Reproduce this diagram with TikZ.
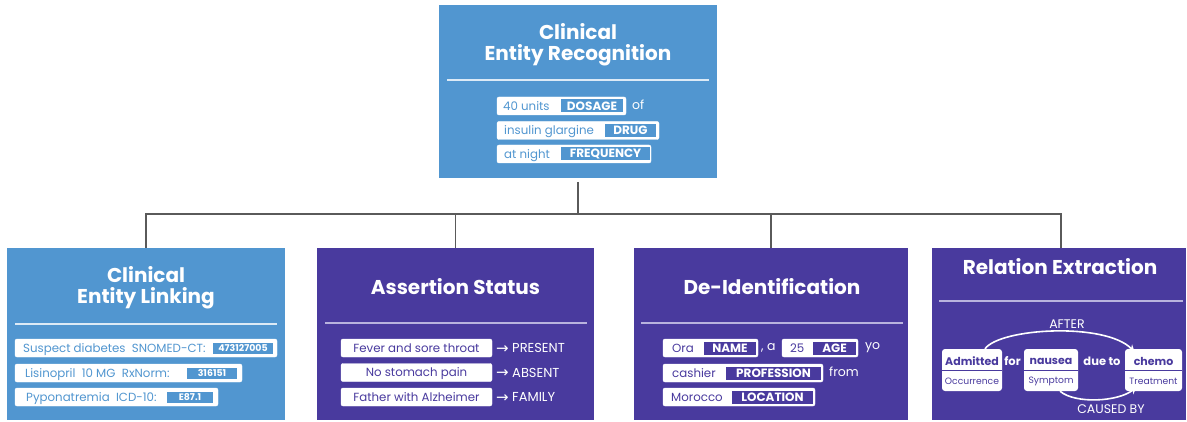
\documentclass[tikz,border=0pt]{standalone}
\usepackage{fontspec}
\setmainfont{Poppins}
\newfontfamily\djv{DejaVu Sans}
\usetikzlibrary{arrows.meta}
\definecolor{cblue}{HTML}{5196D0}
\definecolor{cpurp}{HTML}{493A9E}
\definecolor{cline}{HTML}{5A5A5A}
\definecolor{sepb}{HTML}{DCEAF6}
\definecolor{sepp}{HTML}{B9B3DE}
\tikzset{
  panel/.style={inner sep=0, outer sep=0, anchor=north west},
  ttl/.style={text=white, align=center, font=\bfseries\fontsize{20}{21}\selectfont},
  rowbox/.style={fill=white, draw=white, rounded corners=2pt, inner sep=0, minimum height=18pt},
  rtext/.style={anchor=west, inner sep=0, text height=8.8pt, text depth=0pt, font=\fontsize{11.8}{13}\selectfont},
  tagb/.style={fill=#1, text=white, inner sep=0, minimum height=13pt, font=\bfseries\fontsize{12}{13}\selectfont},
  tags/.style={fill=#1, text=white, inner sep=0, minimum height=11pt, font=\bfseries\fontsize{9.4}{10}\selectfont},
  wtext/.style={text=white, inner sep=0, font=\fontsize{12.5}{14}\selectfont},
  arrtext/.style={text=white, inner sep=0, anchor=west, text height=9pt, text depth=0pt, font=\fontsize{13}{14}\selectfont},
  conn/.style={draw=cline, line width=1.1pt},
  ebox/.style={fill=white, rounded corners=3pt, inner sep=0, minimum height=42pt},
  ename/.style={text=cpurp, inner sep=0, font=\bfseries\fontsize{11}{12}\selectfont},
  elab/.style={text=cpurp, inner sep=0, font=\fontsize{9.2}{10}\selectfont},
  rel/.style={draw=white, line width=1.6pt, -{Stealth[length=7pt,width=7pt]}},
  asrow/.style={rowbox, minimum width=151pt, text=cpurp, text height=8.8pt, text depth=0pt, font=\fontsize{11.8}{13}\selectfont},
}
\newcommand{\rarw}{{\djv\fontsize{15}{14}\selectfont\raisebox{-0.5pt}{→}}}
\begin{document}
\begin{tikzpicture}[x=1pt,y=-1pt]
\useasboundingbox (0,0) rectangle (1187,422);
% panels
\node[panel, fill=cblue, minimum width=278pt, minimum height=173pt] (top) at (439,5) {};
\node[panel, fill=cblue, minimum width=278pt, minimum height=172pt] (b1) at (7,248) {};
\node[panel, fill=cpurp, minimum width=277pt, minimum height=172pt] (b2) at (317,248) {};
\node[panel, fill=cpurp, minimum width=274pt, minimum height=172pt] (b3) at (634,248) {};
\node[panel, fill=cpurp, minimum width=254pt, minimum height=172pt] (b4) at (932,248) {};
% connectors
\coordinate (bus) at (578,214);
\draw[conn, shorten <=4pt] (top.south) -- (bus);
\draw[conn] (b1.north) -- (b1.north |- bus) -- ([xshift=2pt]b4.north |- bus) -- ([xshift=2pt]b4.north);
\draw[conn] (b2.north) -- (b2.north |- bus);
\draw[conn] (b3.north) -- (b3.north |- bus);
% titles
\node[ttl] (t0) at (578,45) {Clinical\\Entity Recognition};
\node[ttl] (t1) at (146,288) {Clinical\\Entity Linking};
\node[ttl] (t2) at (455.5,287) {Assertion Status};
\node[ttl] (t3) at (772,287) {De-Identification};
\node[ttl] (t4) at (1060,267) {Relation Extraction};
% separators
\draw[sepb, line width=1.1pt] (447,80) -- (709,80);
\draw[sepb, line width=1.1pt] (15,324) -- (277,324);
\draw[sepp, line width=1.1pt] (325,323) -- (587,323);
\draw[sepp, line width=1.1pt] (641,323) -- (903,323);
\draw[sepp, line width=1.1pt] (939,301) -- (1183,301);
% top rows
\node[rowbox, minimum width=129pt] (r01) at (561.5,106) {};
\node[rtext, text=cblue] (r01t) at (503,106) {40 units};
\node[tagb=cblue, minimum width=62pt] (r01g) at (592,106) {DOSAGE};
\node[wtext, anchor=west] (r01o) at (632,105) {of};
\node[rowbox, minimum width=162pt] (r02) at (578,130.5) {};
\node[rtext, text=cblue] (r02t) at (504,130.5) {insulin glargine};
\node[tagb=cblue, minimum width=51pt] (r02g) at (630.5,130.5) {DRUG};
\node[rowbox, minimum width=154pt] (r03) at (574,154) {};
\node[rtext, text=cblue] (r03t) at (504,154) {at night};
\node[tagb=cblue, minimum width=89pt] (r03g) at (605.5,154) {FREQUENCY};
% box1 rows
\node[rowbox, minimum width=262pt] (r11) at (146,348) {};
\node[rtext, text=cblue] (r11t) at (23,348) {Suspect diabetes\ \ SNOMED-CT:};
\node[tags=cblue, minimum width=60pt] (r11g) at (243,348.5) {473127005};
\node[rowbox, minimum width=227pt] (r12) at (128.5,373) {};
\node[rtext, text=cblue] (r12t) at (25,373) {Lisinopril\ \ 10 MG\ \ RxNorm:};
\node[tags=cblue, minimum width=50pt] (r12g) at (212,373) {316151};
\node[rowbox, minimum width=203pt] (r13) at (116.5,397) {};
\node[rtext, text=cblue] (r13t) at (26,397) {Pyponatremia\ \ ICD-10:};
\node[tags=cblue, minimum width=46pt] (r13g) at (190,397) {E87.1};
% box2 rows
\node[asrow] (r21) at (416.5,348) {Fever and sore throat};
\node[asrow] (r22) at (416.5,372.5) {No stomach pain};
\node[asrow] (r23) at (416.5,397) {Father with Alzheimer};
\node[arrtext] (r21a) at (496,348) {\rarw\ PRESENT};
\node[arrtext] (r22a) at (496,372.5) {\rarw\ ABSENT};
\node[arrtext] (r23a) at (496,397) {\rarw\ FAMILY};
% box3 rows
\node[rowbox, minimum width=95pt] (r31) at (710.5,348) {};
\node[rtext, text=cpurp] (r31t) at (672,348) {Ora};
\node[tagb=cpurp, minimum width=52pt] (r31g) at (730,348) {NAME};
\node[wtext, anchor=west] (r31c) at (761,348) {, a};
\node[rowbox, minimum width=76pt] (r32) at (820,348) {};
\node[rtext, text=cpurp] (r32t) at (790,348) {25};
\node[tagb=cpurp, minimum width=43pt] (r32g) at (834.5,348) {AGE};
\node[wtext, anchor=west] (r32y) at (865,348) {yo};
\node[rowbox, minimum width=160pt] (r33) at (743,373) {};
\node[rtext, text=cpurp] (r33t) at (672,373) {cashier};
\node[tagb=cpurp, minimum width=95pt] (r33g) at (773.5,373) {PROFESSION};
\node[wtext, anchor=west] (r33f) at (829,372) {from};
\node[rowbox, minimum width=152pt] (r34) at (739,397) {};
\node[rtext, text=cpurp] (r34t) at (671,397) {Morocco};
\node[tagb=cpurp, minimum width=81pt] (r34g) at (772.5,397) {LOCATION};
% box4 relation
\node[ebox, minimum width=60pt] (adm) at (972,370) {};
\node[ebox, minimum width=54pt] (nau) at (1051,370) {};
\node[ebox, minimum width=57pt] (che) at (1153.5,370) {};
\draw[cpurp, line width=0.8pt] (adm.west) -- (adm.east);
\draw[cpurp, line width=0.8pt] (nau.west) -- (nau.east);
\draw[cpurp, line width=0.8pt] (che.west) -- (che.east);
\node[ename] (admt) at (972,361) {Admitted};
\node[elab] (adml) at (972,381) {Occurrence};
\node[ename] (naut) at (1051,361) {nausea};
\node[elab] (naul) at (1051,381) {Symptom};
\node[ename] (chet) at (1153.5,361) {chemo};
\node[elab] (chel) at (1153.5,381) {Treatment};
\node[wtext, font=\bfseries\fontsize{11.5}{12}\selectfont] (for) at (1012.5,361) {for};
\node[wtext, font=\bfseries\fontsize{11.5}{12}\selectfont] (due) at (1102,361) {due to};
\node[wtext] (after) at (1067,324) {AFTER};
\node[wtext] (caused) at (1111,409) {CAUSED BY};
\draw[rel] ([xshift=13pt]adm.north) .. controls (1000,328) and (1105,322) .. ([xshift=-19pt,yshift=-3pt]che.north);
\draw[rel] ([xshift=9pt]nau.south) .. controls (1075,404) and (1118,402) .. ([xshift=-17pt,yshift=4pt]che.south);
\end{tikzpicture}
\end{document}
